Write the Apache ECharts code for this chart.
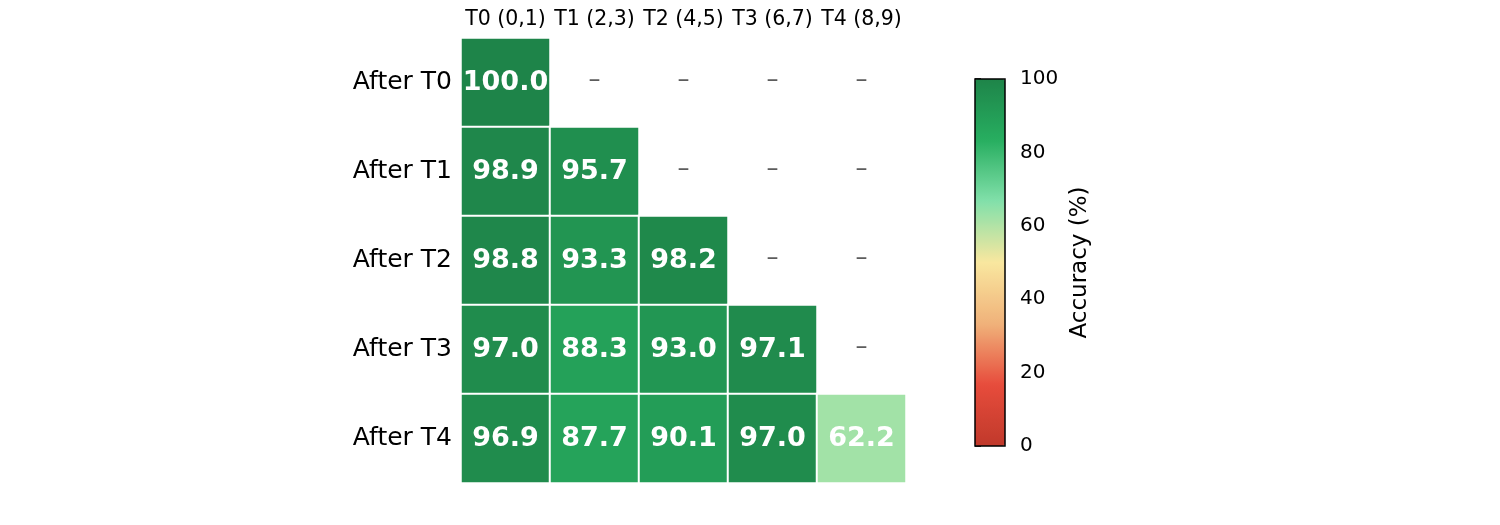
<!DOCTYPE html>
<html><head><meta charset="utf-8">
<script src="https://cdn.jsdelivr.net/npm/echarts@6/dist/echarts.min.js"></script>
<style>html,body{margin:0;padding:0;background:#fff}#c{width:1500px;height:525px}</style>
</head><body><div id="c"></div>
<script>
const taskLabels = ['T0 (0,1)', 'T1 (2,3)', 'T2 (4,5)', 'T3 (6,7)', 'T4 (8,9)'];
const stageLabels = ['After T0', 'After T1', 'After T2', 'After T3', 'After T4'];
const afterT0 = [100.0];
const afterT1 = [98.9, 95.7];
const afterT2 = [98.8, 93.3, 98.2];
const afterT3 = [97.0, 88.3, 93.0, 97.1];
const afterT4 = [96.9, 87.7, 90.1, 97.0, 62.2];
const colorbarTicks = [0, 20, 40, 60, 80, 100];
const rowsData = [afterT0, afterT1, afterT2, afterT3, afterT4];

const cells = [], dashes = [];
rowsData.forEach((row, r) => {
  for (let c = 0; c < taskLabels.length; c++) {
    if (c < row.length) cells.push([c, r, row[c]]);
    else dashes.push([c, r]);
  }
});
const font = 'DejaVu Sans';
const chart = echarts.init(document.getElementById('c'));
chart.setOption({
  animation: false,
  textStyle: { fontFamily: font },
  grid: [
    { left: 461, top: 38, width: 445, height: 445 },
    { left: 975, top: 79, width: 30, height: 367, show: true, borderColor: '#000', borderWidth: 1.5, backgroundColor: 'transparent', z: 10 }
  ],
  xAxis: [
    { type: 'category', data: taskLabels, position: 'top', gridIndex: 0,
      axisLine: { show: false }, axisTick: { show: false }, splitLine: { show: false },
      axisLabel: { fontSize: 20.5, color: '#000', margin: 8, fontFamily: font, interval: 0, hideOverlap: false } },
    { type: 'value', gridIndex: 1, show: false, min: 0, max: 1 }
  ],
  yAxis: [
    { type: 'category', data: stageLabels, inverse: true, gridIndex: 0,
      axisLine: { show: false }, axisTick: { show: false }, splitLine: { show: false },
      axisLabel: { fontSize: 25, color: '#000', margin: 9, fontFamily: font, interval: 0 } },
    { type: 'value', gridIndex: 1, position: 'right', min: 0, max: 100, interval: 20,
      axisLine: { show: false }, splitLine: { show: false },
      axisTick: { show: true, length: 6, lineStyle: { color: '#000', width: 1.5 } },
      axisLabel: { fontSize: 20, color: '#000', margin: 15, fontFamily: font,
        formatter: v => colorbarTicks.includes(v) ? String(v) : '' },
      name: 'Accuracy (%)', nameLocation: 'middle', nameRotate: 90, nameGap: 64,
      nameTextStyle: { fontSize: 23, color: '#000', fontFamily: font } }
  ],
  visualMap: {
    type: 'continuous', min: 0, max: 100, seriesIndex: 0, calculable: false,
    orient: 'vertical', left: 975, top: 79, itemWidth: 30, itemHeight: 367,
    padding: 0, text: null, showLabel: false, hoverLink: false,
    inRange: { color: ['#c0392b', '#e74c3c', '#f0b27a', '#f9e79f', '#82e0aa', '#27ae60', '#1e8449'] }
  },
  series: [
    { type: 'heatmap', xAxisIndex: 0, yAxisIndex: 0, data: cells,
      itemStyle: { borderColor: '#fff', borderWidth: 2 },
      label: { show: true, color: '#fff', fontSize: 27, fontWeight: 'bold', fontFamily: font,
        formatter: p => p.value[2].toFixed(1) } },
    { type: 'scatter', xAxisIndex: 0, yAxisIndex: 0, data: dashes, symbolSize: 0,
      label: { show: true, position: 'inside', formatter: '–', color: '#333', fontSize: 24, fontFamily: font, offset: [0, -2] } }
  ]
});
</script></body></html>
